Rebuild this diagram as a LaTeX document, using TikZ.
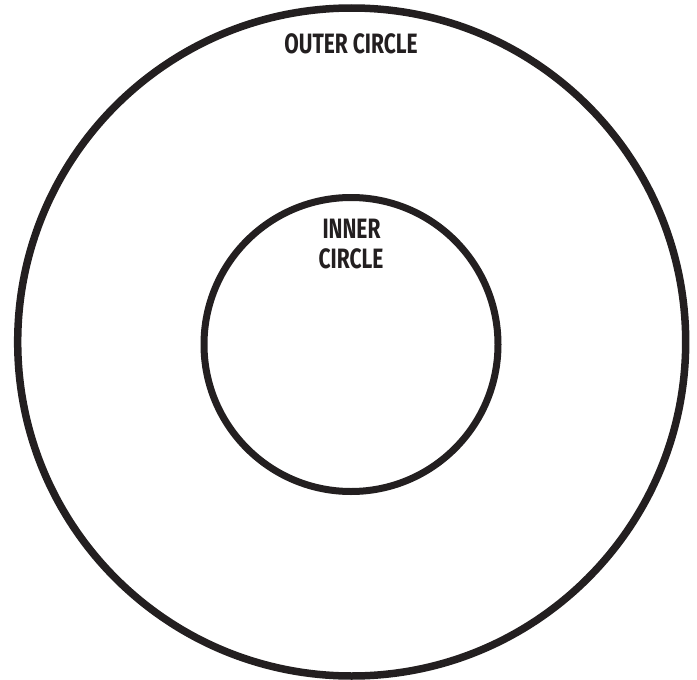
\documentclass[tikz,border=0pt]{standalone}
\usepackage{fontspec}
\newfontfamily\labfont[FakeStretch=0.75]{Fira Sans}
\definecolor{ink}{HTML}{231F20}
\begin{document}
\begin{tikzpicture}[x=1pt,y=-1pt,
  ring/.style={draw=ink,line width=7.5pt,fill=none},
  lab/.style={text=ink,font=\labfont\bfseries\fontsize{28}{30}\selectfont,inner sep=0pt,anchor=base,align=center}]
\useasboundingbox (0,0) rectangle (697,680);
\node[ring,circle,minimum size=668pt,inner sep=0pt] (outer) at (351.7,342) {};
\node[ring,circle,minimum size=294pt,inner sep=0pt,line width=7pt] (inner) at (351,344.5) {};
\node[lab] (outerlab) at (351,53) {OUTER CIRCLE};
\node[lab] (innerlab1) at (351.5,238) {INNER};
\node[lab] (innerlab2) at (351,268) {CIRCLE};
\end{tikzpicture}
\end{document}
